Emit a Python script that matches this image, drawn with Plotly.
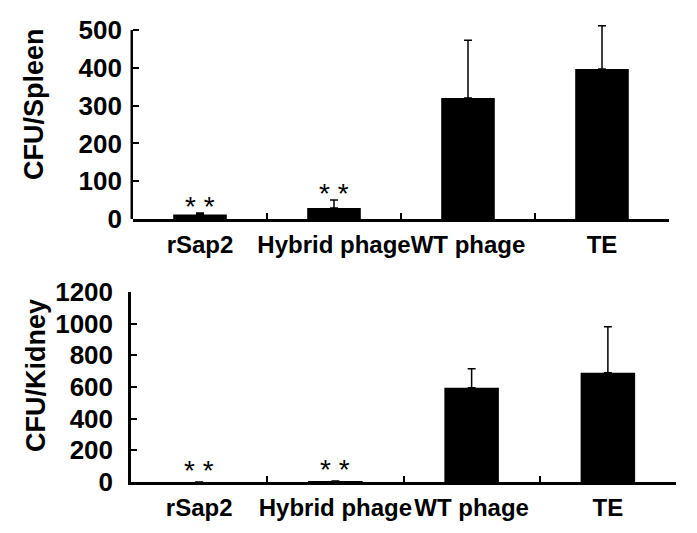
import plotly.graph_objects as go

categories = ["rSap2", "Hybrid phage", "WT phage", "TE"]
spleen_values = [12, 29, 320, 397]
spleen_errors = [4, 21, 153, 114]
kidney_values = [0, 3, 595, 690]
kidney_errors = [0, 4, 120, 290]
spleen_ticks = [0, 100, 200, 300, 400, 500]
kidney_ticks = [0, 200, 400, 600, 800, 1000, 1200]
sig_marks = ["* *", "* *", "", ""]

FONT = "Liberation Sans, Arial, sans-serif"
W, H = 689, 525  # page body has an 8px margin
SPLEEN_TOP = 520  # headroom so the TE error cap is not clipped

fig = go.Figure()
for vals, errs, xa, ya in [(spleen_values, spleen_errors, "x", "y"),
                           (kidney_values, kidney_errors, "x2", "y2")]:
    fig.add_trace(go.Bar(
        x=categories, y=vals, width=0.4,
        marker=dict(color="black", line=dict(width=0)),
        error_y=dict(type="data", array=errs, arrayminus=[0]*4, symmetric=False,
                     color="black", thickness=1.5, width=4),
        xaxis=xa, yaxis=ya, showlegend=False))

xcommon = dict(type="category", categoryorder="array", categoryarray=categories,
               range=[-0.5, 3.5], showline=True, linecolor="black", linewidth=2.5,
               ticks="inside", tickson="boundaries", ticklen=6, tickwidth=2,
               tickcolor="black", showgrid=False, zeroline=False, automargin=False,
               tickangle=0,
               tickfont=dict(family=FONT, size=24, color="black", weight="bold"),
               ticklabelstandoff=2)
ycommon = dict(linecolor="black", linewidth=2.5, ticks="inside",
               ticklen=6, tickwidth=2, tickcolor="black", showgrid=False,
               zeroline=False, automargin=False,
               tickfont=dict(family=FONT, size=26, color="black", weight="bold"),
               ticklabelstandoff=10)

px_per_unit = (211 - 22) / 500
top_px = 211 - SPLEEN_TOP * px_per_unit

fig.update_layout(
    width=W, height=H,
    margin=dict(l=0, r=0, t=0, b=0),
    paper_bgcolor="white", plot_bgcolor="white",
    xaxis=dict(domain=[125/W, 661/W], anchor="y", **xcommon),
    yaxis=dict(domain=[1 - 211/H, 1 - top_px/H], anchor="x", range=[0, SPLEEN_TOP],
               tickvals=spleen_ticks, showline=False, **ycommon),
    xaxis2=dict(domain=[123/W, 668/W], anchor="y2", **xcommon),
    yaxis2=dict(domain=[1 - 474/H, 1 - 284/H], anchor="x2", range=[0, 1200],
                tickvals=kidney_ticks, showline=True, **ycommon),
)

# y-axis line of the upper panel, ending at its top tick
fig.add_shape(type="line", xref="x domain", yref="y", xsizemode="pixel", xanchor=0,
              x0=-1.25, x1=-1.25, y0=0, y1=spleen_ticks[-1],
              line=dict(color="black", width=2.5))

annotations = []
for i, c in enumerate(categories):
    if sig_marks[i]:
        annotations.append(dict(x=c, y=spleen_values[i] + spleen_errors[i], xref="x", yref="y",
                                text=sig_marks[i], showarrow=False, yanchor="bottom", yshift=-11,
                                font=dict(family=FONT, size=28, color="black")))
        annotations.append(dict(x=c, y=kidney_values[i] + kidney_errors[i], xref="x2", yref="y2",
                                text=sig_marks[i], showarrow=False, yanchor="bottom", yshift=-6,
                                font=dict(family=FONT, size=28, color="black")))
annotations.append(dict(x=26/W, y=1 - 96/H, xref="paper", yref="paper", text="CFU/Spleen",
                        textangle=-90, showarrow=False, xanchor="center", yanchor="middle",
                        font=dict(family=FONT, size=27, color="black", weight="bold")))
annotations.append(dict(x=28/W, y=1 - 368/H, xref="paper", yref="paper", text="CFU/Kidney",
                        textangle=-90, showarrow=False, xanchor="center", yanchor="middle",
                        font=dict(family=FONT, size=27, color="black", weight="bold")))
fig.update_layout(annotations=annotations)

fig.write_html("out.html")
